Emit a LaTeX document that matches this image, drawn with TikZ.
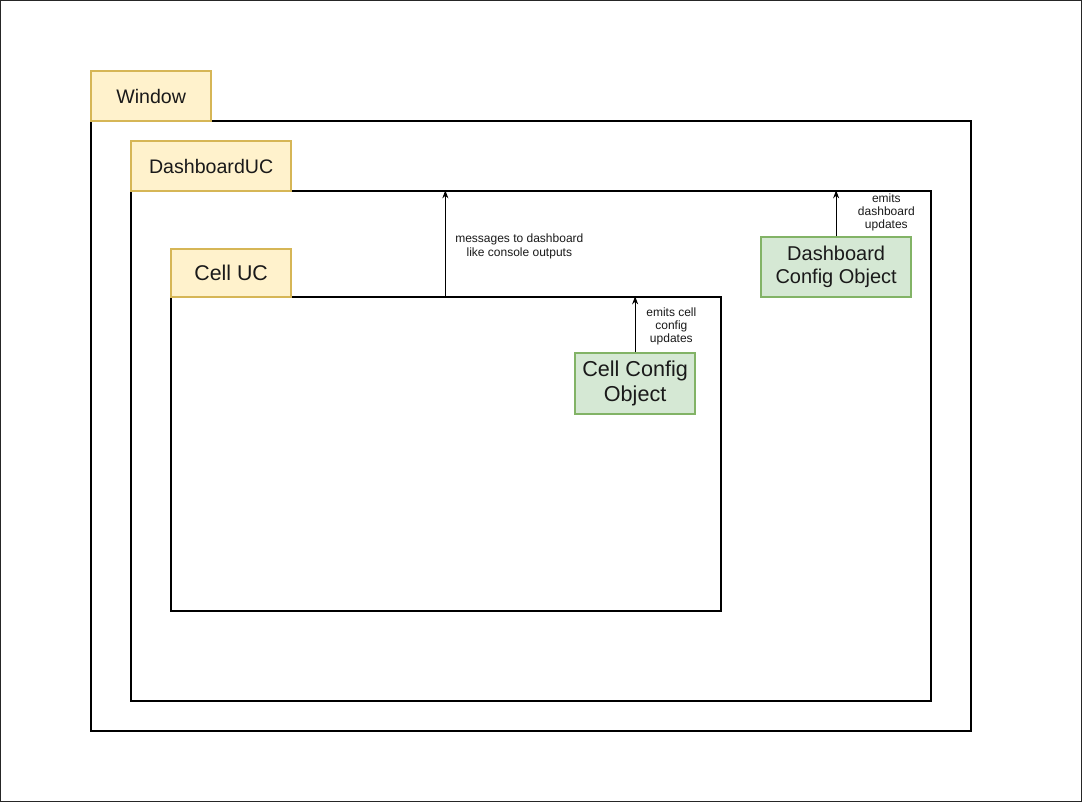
\documentclass[tikz,border=0pt]{standalone}
\usepackage{fontspec}
\setmainfont{Liberation Sans}
\usetikzlibrary{arrows.meta,calc}
\definecolor{yfill}{HTML}{FFF2CC}
\definecolor{ydraw}{HTML}{D6B656}
\definecolor{gfill}{HTML}{D5E8D4}
\definecolor{gdraw}{HTML}{82B366}
\definecolor{txt}{HTML}{1A1A1A}
\tikzset{
  container/.style={draw=black, line width=1.2pt, fill=white, anchor=north west, inner sep=0pt},
  tag/.style={draw=ydraw, fill=yfill, line width=1.2pt, anchor=north west, inner sep=0pt, text=txt, font=\fontsize{14.7pt}{17pt}\selectfont},
  cfg/.style={draw=gdraw, fill=gfill, line width=1.2pt, anchor=north west, inner sep=0pt, align=center, text=txt},
  note/.style={align=center, font=\fontsize{9pt}{10pt}\selectfont, text=txt, inner sep=0pt},
  arr/.style={line width=0.75pt, -{Stealth[length=6pt,width=4.5pt]}}
}
\begin{document}
\begin{tikzpicture}
\useasboundingbox (0,0) rectangle (811.5pt,-601.5pt);
\draw[line width=0.75pt, draw=black!85] (0.375pt,-0.375pt) rectangle (811.125pt,-601.125pt);

\begin{scope}[shift={(-0.5pt,0.5pt)}]
\node[container, minimum width=660pt, minimum height=457.5pt] (win) at (68.25pt,-90.75pt) {};
\node[tag, minimum width=90pt, minimum height=37.5pt] (winlbl) at (68.25pt,-53.25pt) {Window};

\node[container, minimum width=600pt, minimum height=382.5pt] (dash) at (98.25pt,-143.25pt) {};
\node[tag, minimum width=120pt, minimum height=37.5pt] (dashlbl) at (98.25pt,-105.75pt) {DashboardUC};

\node[container, minimum width=412.5pt, minimum height=235.5pt] (cell) at (128.25pt,-222.75pt) {};
\node[tag, minimum width=90pt, minimum height=36pt, font=\fontsize{16pt}{18pt}\selectfont] (celllbl) at (128.25pt,-186.75pt) {Cell UC};

\node[cfg, minimum width=90pt, minimum height=45.75pt, font=\fontsize{16.2pt}{18.75pt}\selectfont] (cellcfg) at (431.25pt,-264.75pt) {Cell Config\\Object};
\node[cfg, minimum width=112.5pt, minimum height=45pt, font=\fontsize{15pt}{17.5pt}\selectfont] (dashcfg) at (570.75pt,-177.75pt) {Dashboard\\Config Object};

\coordinate (a1) at (334.5pt,-222.75pt);
\draw[arr] (a1) -- (a1 |- dash.north);
\draw[arr] (cellcfg.north) -- (cellcfg.north |- cell.north);
\draw[arr] (dashcfg.north) -- (dashcfg.north |- dash.north);

\node[note] (n1) at (390pt,-185.25pt) {messages to dashboard\\like console outputs};
\node[note] (n2) at (504pt,-245.25pt) {emits cell\\config\\updates};
\node[note] (n3) at (665.25pt,-159.75pt) {emits\\dashboard\\updates};
\end{scope}
\end{tikzpicture}
\end{document}
